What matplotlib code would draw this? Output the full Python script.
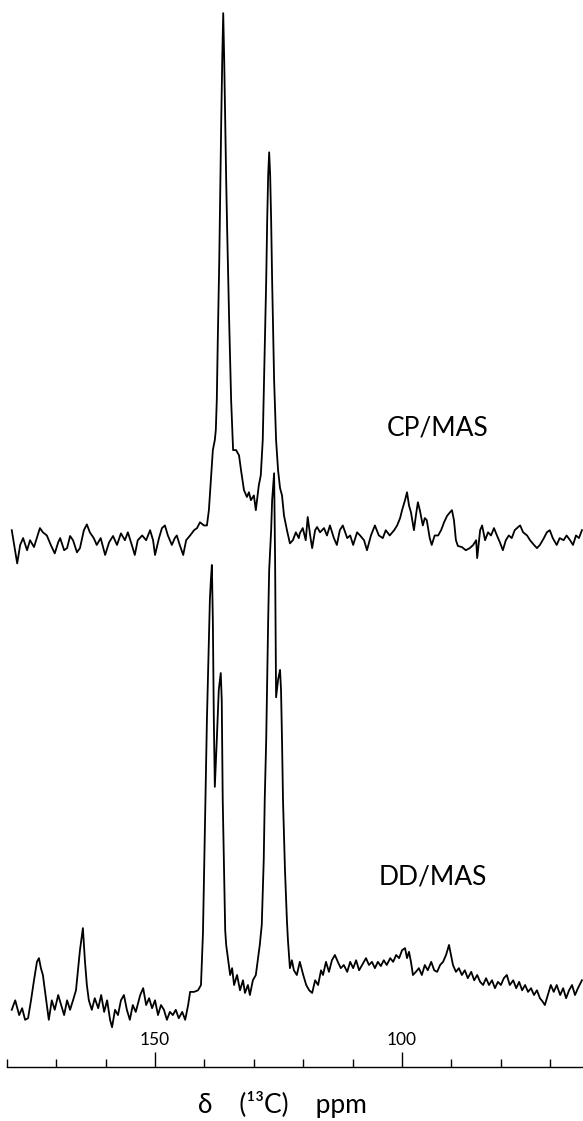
import numpy as np
import matplotlib.pyplot as plt
from matplotlib.ticker import FixedLocator, NullFormatter

plt.rcParams['font.family'] = ['Lato', 'DejaVu Sans']

# CP/MAS spectrum, chemical shift (ppm) and intensity (a.u., main peak = 100)
cp_ppm = [179.0, 177.9, 177.3, 176.7, 175.9, 175.3, 174.5, 173.3, 172.7, 171.9,
          171.1, 170.3, 169.6, 169.2, 168.4, 167.8, 167.2, 166.6, 165.8, 165.2,
          164.4, 163.8, 163.2, 162.4, 161.8, 161.0, 160.1, 159.3, 158.5, 157.7,
          156.9, 156.1, 155.5, 154.7, 154.1, 153.5, 152.6, 151.8, 151.0, 150.4,
          150.0, 149.2, 148.6, 148.0, 147.4, 146.6, 146.0, 145.6, 145.0, 144.3,
          143.7, 142.9, 142.1, 141.5, 140.9, 140.1, 139.5, 139.1, 138.7, 138.3,
          137.9, 137.7, 137.5, 137.3, 137.0, 136.8, 136.6, 136.4, 136.2, 136.0,
          135.8, 135.6, 135.4, 135.0, 134.6, 134.2, 133.6, 133.0, 132.6, 132.0,
          131.4, 131.0, 130.6, 130.0, 129.6, 129.0, 128.6, 128.2, 127.8, 127.5,
          127.3, 127.1, 126.9, 126.7, 126.5, 126.3, 125.9, 125.5, 125.1, 124.7,
          124.3, 123.9, 123.3, 122.7, 122.1, 121.5, 120.9, 120.7, 120.1, 119.5,
          119.1, 118.6, 118.2, 117.6, 117.2, 116.6, 115.8, 115.2, 114.6, 113.8,
          113.2, 112.6, 112.0, 111.1, 110.5, 109.9, 109.1, 108.5, 107.7, 107.1,
          106.3, 105.5, 104.7, 103.9, 103.3, 102.5, 101.6, 101.0, 100.4, 100.0,
          99.4, 99.0, 98.6, 98.2, 97.6, 97.2, 96.8, 96.4, 95.8, 95.4,
          95.0, 94.4, 94.0, 93.4, 92.7, 92.1, 91.5, 90.9, 90.3, 89.9,
          89.5, 89.1, 88.7, 87.9, 87.1, 86.3, 85.6, 85.0, 84.8, 84.2,
          83.8, 83.2, 82.6, 82.0, 81.4, 80.8, 80.2, 79.6, 79.0, 78.4,
          77.8, 77.2, 76.5, 76.1, 75.5, 74.7, 74.1, 73.3, 72.7, 72.1,
          71.3, 70.7, 70.1, 69.5, 68.7, 68.1, 67.3, 66.7, 66.0, 65.4,
          64.8, 64.2, 63.6]
cp_int = [1.9, -4.4, -0.9, 0.4, -1.9, 0.0, -1.3, 2.3, 1.5, 0.9,
          -0.9, -2.5, -0.4, 0.4, -1.9, -1.5, 0.8, 0.0, -2.3, -1.5,
          1.9, 3.0, 1.5, 0.4, -0.9, 0.4, -2.8, -0.4, 0.8, -0.9,
          1.3, 0.0, 1.5, -0.9, -2.8, 0.0, 0.9, 0.0, 1.9, 0.0,
          -2.8, 0.4, 2.3, 2.8, 0.9, -0.9, 0.4, 0.9, -0.9, -2.8,
          0.0, 0.9, 1.9, 2.3, 3.4, 2.8, 2.8, 5.7, 11.4, 17.1,
          19.0, 20.9, 26.6, 38.0, 53.1, 66.4, 79.7, 91.1, 100.0, 91.1,
          79.7, 68.3, 58.8, 41.7, 26.6, 17.1, 17.1, 16.1, 13.3, 9.5,
          8.2, 9.1, 7.6, 8.5, 5.7, 10.4, 12.3, 19.0, 36.1, 49.3,
          60.7, 69.3, 73.6, 69.3, 60.7, 49.3, 30.4, 19.0, 13.3, 9.9,
          8.5, 4.7, 1.9, -0.6, 0.0, 1.5, 0.4, 1.3, 2.3, 0.0,
          4.4, 0.9, -1.5, 1.9, 2.5, 1.5, 2.3, 0.9, 2.8, 0.4,
          -0.9, 1.9, 2.8, 0.4, 0.9, -0.9, 1.5, 0.9, 0.0, -1.9,
          0.9, 2.8, 0.9, 0.4, 1.9, 0.9, 1.9, 2.8, 4.2, 5.7,
          7.6, 9.1, 6.6, 5.3, 1.9, 4.7, 7.2, 5.7, 2.8, 4.2,
          3.8, 0.4, -0.9, 0.9, 0.9, 1.9, 3.4, 4.6, 5.3, 5.7,
          3.8, 0.0, -1.1, -1.3, -1.9, -1.5, -0.9, 0.0, -3.4, 1.9,
          2.8, 0.0, 1.5, 0.9, 2.3, 0.9, -0.4, -1.9, 0.0, 0.9,
          0.4, 1.9, 2.5, 2.8, 1.5, 0.9, 0.0, -0.9, -1.5, -0.9,
          0.4, 1.5, 1.9, 0.4, -0.9, 0.4, 0.0, 0.9, 0.0, -0.9,
          0.9, 0.4, 1.9]

# DD/MAS spectrum, same intensity scale
dd_ppm = [179.0, 178.3, 177.5, 176.9, 176.3, 175.7, 175.1, 174.5, 173.9, 173.5,
          173.1, 172.7, 172.3, 171.9, 171.5, 170.9, 170.3, 169.6, 169.0, 168.4,
          167.8, 167.2, 166.6, 166.0, 165.6, 165.2, 164.8, 164.6, 164.4, 164.2,
          163.8, 163.4, 162.8, 162.2, 161.5, 160.9, 160.3, 159.7, 159.1, 158.7,
          158.1, 157.5, 156.9, 156.3, 155.7, 155.1, 154.5, 153.9, 153.0, 152.4,
          151.8, 151.2, 150.6, 150.0, 149.4, 148.8, 148.2, 147.6, 147.0, 146.4,
          145.8, 145.2, 144.5, 143.9, 143.3, 142.9, 142.1, 141.3, 140.7, 140.5,
          140.3, 140.1, 139.9, 139.7, 139.5, 139.3, 139.1, 138.9, 138.7, 138.5,
          138.3, 138.1, 137.9, 137.5, 137.1, 136.7, 136.5, 136.3, 136.0, 135.8,
          135.6, 135.2, 134.8, 134.4, 134.0, 133.4, 132.8, 132.2, 131.8, 131.2,
          130.8, 130.2, 129.6, 129.2, 128.8, 128.4, 128.0, 127.8, 127.5, 127.3,
          127.1, 126.9, 126.5, 126.3, 125.9, 125.7, 125.5, 125.1, 124.7, 124.5,
          124.3, 124.1, 123.7, 123.3, 123.1, 122.7, 122.3, 121.9, 121.3, 120.7,
          120.0, 119.4, 118.8, 118.2, 117.6, 117.0, 116.4, 116.0, 115.4, 114.8,
          114.2, 113.6, 113.0, 112.4, 111.8, 111.1, 110.5, 109.9, 109.3, 108.7,
          108.1, 107.3, 106.7, 106.1, 105.5, 104.9, 104.3, 103.7, 103.1, 102.4,
          101.8, 101.2, 100.6, 100.0, 99.4, 99.0, 98.6, 98.2, 97.8, 97.2,
          96.6, 96.0, 95.4, 94.8, 94.1, 93.5, 92.9, 92.3, 91.7, 91.1,
          90.5, 90.1, 89.7, 89.1, 88.5, 87.9, 87.3, 86.7, 86.0, 85.4,
          84.8, 84.2, 83.6, 83.0, 82.4, 81.8, 81.2, 80.6, 80.0, 79.4,
          78.8, 78.2, 77.5, 76.9, 76.3, 75.7, 75.1, 74.5, 73.9, 73.3,
          72.7, 72.1, 71.5, 71.1, 70.5, 69.9, 69.3, 68.7, 68.0, 67.4,
          66.8, 66.2, 65.6, 65.0, 64.4, 63.6]
dd_int = [-0.9, 0.9, -1.9, -0.6, -2.8, -2.5, 0.9, 4.7, 8.2, 8.9,
          7.0, 5.7, 2.8, 0.0, -2.8, 0.9, -0.9, 1.9, 0.0, -1.9,
          0.9, -0.9, 0.9, 2.8, 6.6, 10.4, 13.3, 14.6, 11.4, 8.5,
          3.8, 0.9, -0.9, 1.3, -0.6, 1.9, -1.3, 0.9, -2.8, -4.2,
          -0.9, -1.9, 0.9, 1.9, -0.9, -2.8, 0.0, -1.3, 1.9, 3.2,
          0.0, 1.3, -0.6, 0.9, -1.9, 0.0, -0.9, -2.8, -1.3, -1.9,
          -0.9, -2.5, -1.3, -2.8, 0.0, 2.5, 2.5, 2.8, 3.8, 8.5,
          13.7, 23.7, 33.2, 42.7, 54.1, 61.7, 69.3, 76.9, 80.6, 83.5,
          73.1, 54.1, 41.4, 50.3, 59.8, 63.0, 57.9, 38.9, 23.7, 14.2,
          11.4, 8.5, 5.7, 7.0, 3.8, 5.7, 2.8, 4.7, 2.3, 3.8,
          1.9, 4.7, 5.7, 8.5, 11.4, 15.2, 27.5, 38.9, 50.3, 61.7,
          73.1, 82.5, 90.1, 95.8, 100.9, 84.4, 58.4, 61.7, 63.6, 59.8,
          50.3, 38.9, 25.6, 15.9, 12.3, 7.0, 8.5, 6.6, 5.7, 8.2,
          5.7, 3.8, 2.8, 2.3, 4.7, 3.8, 6.6, 5.7, 8.2, 6.3,
          8.5, 9.5, 8.2, 7.0, 7.6, 6.3, 8.2, 7.0, 8.5, 6.6,
          7.6, 8.9, 7.6, 8.2, 7.0, 8.2, 7.4, 8.5, 7.6, 8.9,
          8.2, 9.5, 8.9, 10.4, 10.8, 8.9, 10.1, 8.2, 5.7, 6.3,
          7.0, 5.7, 7.6, 6.6, 8.2, 6.6, 6.3, 7.6, 8.2, 9.5,
          11.4, 9.5, 7.6, 6.3, 7.0, 5.7, 6.6, 5.1, 6.3, 4.7,
          5.7, 4.4, 3.8, 5.1, 3.8, 4.7, 3.2, 4.4, 3.8, 5.1,
          5.7, 3.8, 4.7, 3.2, 4.4, 2.8, 3.8, 2.5, 3.2, 1.9,
          2.8, 1.3, 0.6, 0.0, 1.9, 3.8, 2.5, 3.8, 1.9, 3.2,
          1.3, 2.8, 3.8, 1.9, 3.2, 4.7]

labels = ['CP/MAS', 'DD/MAS']
major_ticks = [150, 100]
minor_ticks = [180, 170, 160, 140, 130, 120, 110, 90, 80, 70]

cp_offset = 88.2  # vertical shift of the CP trace

fig = plt.figure(figsize=(5.83, 11.21), dpi=100)
ax = fig.add_axes([0, 0, 1, 1])

ax.plot(cp_ppm, np.array(cp_int) + cp_offset, color='black', lw=1.3)
ax.plot(dd_ppm, dd_int, color='black', lw=1.3)

ax.set_xlim(181.38, 63.38)
ax.set_ylim(-22.0, 190.7)

# scale bar drawn with the top spine, moved down under the spectra
for s in ['left', 'right', 'bottom']:
    ax.spines[s].set_visible(False)
ax.spines['top'].set_position(('data', -11.8))
ax.spines['top'].set_bounds(63.38, 180)
ax.spines['top'].set_linewidth(1.0)
ax.yaxis.set_visible(False)
ax.xaxis.set_ticks_position('top')
ax.xaxis.set_major_locator(FixedLocator(major_ticks))
ax.xaxis.set_minor_locator(FixedLocator(minor_ticks))
ax.xaxis.set_minor_formatter(NullFormatter())
ax.tick_params(axis='x', which='major', direction='out', length=10.5, width=1.0,
               pad=3, labelsize=12.5)
ax.tick_params(axis='x', which='minor', direction='out', length=5.5, width=1.0)

ax.text(92.9, 109.5, labels[0], ha='center', va='center', fontsize=19)
ax.text(93.7, 24.3, labels[1], ha='center', va='center', fontsize=19)
ax.text(124.3, -18.8, 'δ    (¹³C)    ppm', ha='center', va='center', fontsize=19)

fig.savefig('out.png', dpi=100)
